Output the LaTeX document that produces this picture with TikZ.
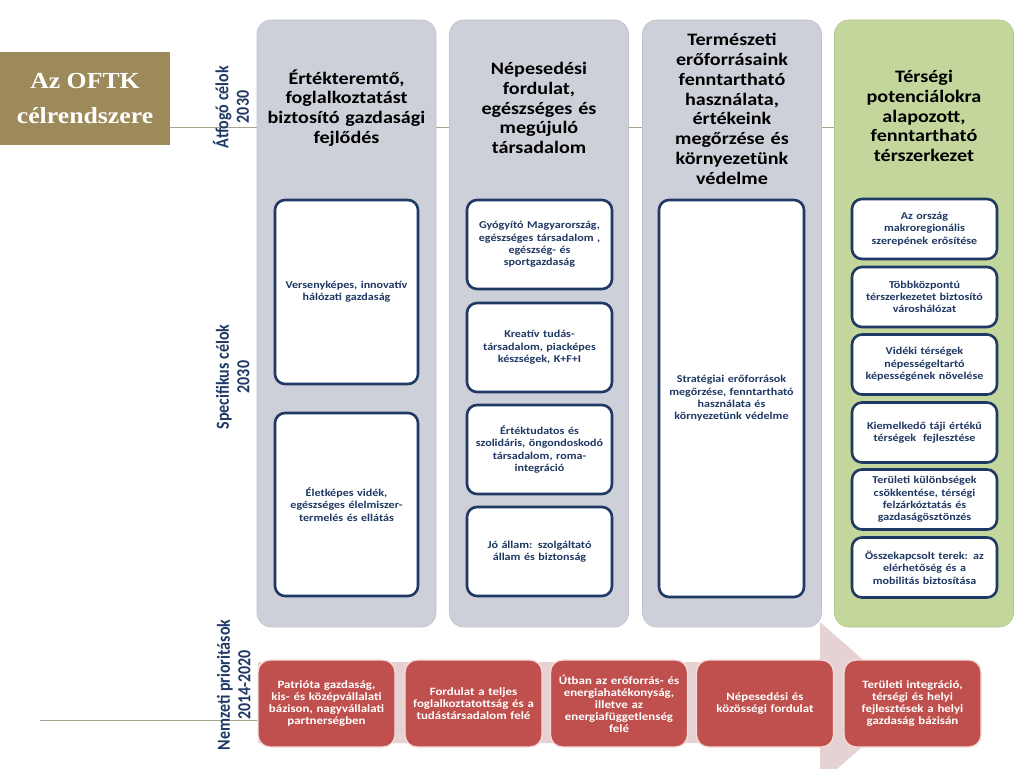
\documentclass[tikz,border=0pt]{standalone}
\usepackage{fontspec}
\setmainfont{Carlito}
\newfontfamily\wide{Carlito}[FakeStretch=1.15]
\newfontfamily\goldserif{Liberation Serif}[FakeStretch=1.12]
\definecolor{colgray}{HTML}{CDD0D8}
\definecolor{colgrayedge}{HTML}{BEC2CB}
\definecolor{colgreen}{HTML}{C3D69B}
\definecolor{colgreenedge}{HTML}{B3C78A}
\definecolor{navy}{HTML}{1F3864}
\definecolor{redbox}{HTML}{C0504D}
\definecolor{rededge}{HTML}{F2DCDB}
\definecolor{arrowpink}{HTML}{E6D1D3}
\definecolor{gold}{HTML}{9C8A5B}
\definecolor{rule}{HTML}{AAA28C}
\newcommand{\tallstack}[1]{\scalebox{1}[1.15]{\begin{tabular}{@{}c@{}}#1\end{tabular}}}
\tikzset{
  colbox/.style={rounded corners=14pt, fill=colgray, draw=colgrayedge, line width=0.6pt, minimum width=179pt, minimum height=607pt, inner sep=0pt},
  greencol/.style={colbox, fill=colgreen, draw=colgreenedge},
  coltitle/.style={font=\wide\fontsize{17.5}{19.8}\selectfont\bfseries, text=black, align=center, text width=176pt},
  wbox/.style={draw=navy, line width=2.6pt, fill=white, rounded corners=10pt, inner sep=0pt, font=\wide\fontsize{10.5}{12.3}\selectfont\bfseries, text=navy, align=center},
  rbox/.style={fill=redbox, draw=rededge, line width=1.4pt, rounded corners=12pt, minimum width=137pt, minimum height=87pt, inner sep=0pt, text width=134pt, font=\wide\fontsize{11.2}{12}\selectfont\bfseries, text=white, align=center},
  sidelabel/.style={rotate=90, inner sep=0pt, font=\fontsize{16}{18}\selectfont\bfseries, text=navy},
  ruleline/.style={draw=rule, line width=0.8pt}
}
\begin{document}
\begin{tikzpicture}[x=1pt, y=-1pt]
\useasboundingbox (0,0) rectangle (1024,768);
\clip (0,0) rectangle (1024,768);
% guide lines
\node[fill=gold, minimum width=170pt, minimum height=93pt, inner sep=0pt, text=white, align=center, font=\goldserif\fontsize{23}{35}\selectfont\bfseries] (gold) at (85,98.5) {Az OFTK\\célrendszere};
\coordinate (topend) at (1014,127);
\coordinate (botstart) at (40,720);
\coordinate (botend) at (258,720);
\draw[ruleline] (gold.east |- topend) -- (topend);
\draw[ruleline] (botstart) -- (botend);
% big arrow
\fill[arrowpink] (258,662) -- (820,662) -- (820,622) -- (912,703) -- (820,784) -- (820,743) -- (258,743) -- cycle;
% columns
\node[colbox] (c1) at (346.5,323.5) {};
\node[colbox] (c2) at (539,323.5) {};
\node[colbox] (c3) at (732,323.5) {};
\node[greencol] (c4) at (924,323.5) {};
% titles
\node[coltitle] (t1) at (346.5,108) {Értékteremtő,\\foglalkoztatást\\biztosító gazdasági\\fejlődés};
\node[coltitle] (t2) at (539,108) {Népesedési\\fordulat,\\egészséges és\\megújuló\\társadalom};
\node[coltitle] (t3) at (732,109) {Természeti\\erőforrásaink\\fenntartható\\használata,\\értékeink\\megőrzése és\\környezetünk\\védelme};
\node[coltitle] (t4) at (924,116) {Térségi\\potenciálokra\\alapozott,\\fenntartható\\térszerkezet};
% side labels
\node[sidelabel] (l1) at (234,107) {\tallstack{Átfogó célok\\2030}};
\node[sidelabel] (l2) at (235,377) {\tallstack{Specifikus célok\\2030}};
\node[sidelabel] (l3) at (236,685) {\tallstack{Nemzeti prioritások\\2014-2020}};
% column 1 boxes
\node[wbox, minimum width=143pt, minimum height=184pt, text width=139pt] (s11) at (346.5,292) {Versenyképes, innovatív\\hálózati gazdaság};
\node[wbox, minimum width=143pt, minimum height=183pt, text width=139pt] (s12) at (346.5,504.5) {Életképes vidék,\\egészséges élelmiszer-\\termelés és ellátás};
% column 2 boxes
\node[wbox, minimum width=145pt, minimum height=89pt, text width=141pt] (s21) at (539.5,244.5) {Gyógyító Magyarország,\\egészséges társadalom ,\\egészség- és\\sportgazdaság};
\node[wbox, minimum width=145pt, minimum height=89pt, text width=141pt] (s22) at (539.5,347.5) {Kreatív tudás-\\társadalom, piacképes\\készségek, K+F+I};
\node[wbox, minimum width=145pt, minimum height=89pt, text width=141pt] (s23) at (539.5,449.5) {Értéktudatos és\\szolidáris, öngondoskodó\\társadalom, roma-\\integráció};
\node[wbox, minimum width=145pt, minimum height=89pt, text width=141pt] (s24) at (539.5,551.5) {Jó állam: szolgáltató\\állam és biztonság};
% column 3 box
\node[wbox, minimum width=145pt, minimum height=397pt, text width=141pt] (s31) at (731.5,398.5) {Stratégiai erőforrások\\megőrzése, fenntartható\\használata és\\környezetünk védelme};
% column 4 boxes
\node[wbox, minimum width=145pt, minimum height=60pt, text width=141pt] (s41) at (924.5,229) {Az ország\\makroregionális\\szerepének erősítése};
\node[wbox, minimum width=145pt, minimum height=60pt, text width=141pt] (s42) at (924.5,297) {Többközpontú\\térszerkezetet biztosító\\városhálózat};
\node[wbox, minimum width=145pt, minimum height=60pt, text width=141pt] (s43) at (924.5,364.5) {Vidéki térségek\\népességeltartó\\képességének növelése};
\node[wbox, minimum width=145pt, minimum height=60pt, text width=141pt] (s44) at (924.5,432.5) {Kiemelkedő táji értékű\\térségek\ \ fejlesztése};
\node[wbox, minimum width=145pt, minimum height=60pt, text width=141pt] (s45) at (924.5,499.5) {Területi különbségek\\csökkentése, térségi\\felzárkóztatás és\\gazdaságösztönzés};
\node[wbox, minimum width=145pt, minimum height=60pt, text width=141pt] (s46) at (924.5,567.5) {Összekapcsolt terek: az\\elérhetőség és a\\mobilitás biztosítása};
% red boxes
\node[rbox] (p1) at (326.5,703.5) {Patrióta gazdaság,\\kis- és középvállalati\\bázison, nagyvállalati\\partnerségben};
\node[rbox] (p2) at (473.5,703.5) {Fordulat a teljes\\foglalkoztatottság és a\\tudástársadalom felé};
\node[rbox] (p3) at (619,703.5) {Útban az erőforrás- és\\energiahatékonyság,\\illetve az\\energiafüggetlenség\\felé};
\node[rbox] (p4) at (765,703.5) {Népesedési és\\közösségi fordulat};
\node[rbox] (p5) at (912.5,703.5) {Területi integráció,\\térségi és helyi\\fejlesztések a helyi\\gazdaság bázisán};
\end{tikzpicture}
\end{document}
